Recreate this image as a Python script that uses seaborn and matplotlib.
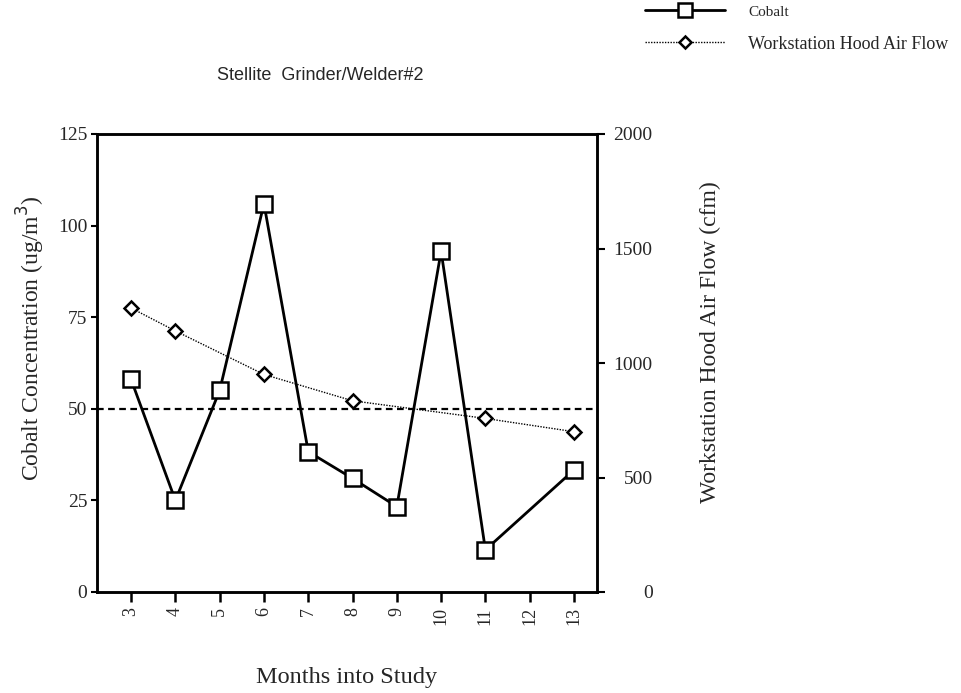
import matplotlib
matplotlib.use("Agg")
import matplotlib.pyplot as plt
import seaborn as sns
import pandas as pd
from matplotlib.lines import Line2D

sns.set_theme(style="white")
plt.rcParams['font.family'] = ['Liberation Serif', 'DejaVu Serif']

months_cobalt = [3, 4, 5, 6, 7, 8, 9, 10, 11, 13]
cobalt = [58, 25, 55, 106, 38.3, 31, 23.3, 93, 11.5, 33.3]
months_flow = [3, 4, 6, 8, 11, 13]
airflow = [1240, 1140, 950, 835, 758, 700]
xticks = [3, 4, 5, 6, 7, 8, 9, 10, 11, 12, 13]
left_ticks = [0, 25, 50, 75, 100, 125]
right_ticks = [0, 500, 1000, 1500, 2000]
limit_value = 50

df_c = pd.DataFrame({"month": months_cobalt, "cobalt": cobalt})
df_f = pd.DataFrame({"month": months_flow, "flow": airflow})

fig = plt.figure(figsize=(9.62, 6.93), dpi=100)
ax = fig.add_axes([97/962, 1-592/693, 500/962, 458/693])
ax2 = ax.twinx()

sns.lineplot(data=df_c, x="month", y="cobalt", ax=ax, color="black", linewidth=2.0,
             marker="s", markersize=12, markerfacecolor="white", markeredgecolor="black",
             markeredgewidth=1.8, zorder=3)
ax.axhline(limit_value, color="black", linestyle=(0, (3, 2)), linewidth=1.6, zorder=2)

sns.lineplot(data=df_f, x="month", y="flow", ax=ax2, color="black", linewidth=1.0,
             linestyle=(0, (1, 1)), marker="D", markersize=7.5, markerfacecolor="white",
             markeredgecolor="black", markeredgewidth=1.8, zorder=3)

ax.set_xlim(2.23, 13.52)
ax.set_ylim(0, 125)
ax2.set_ylim(0, 2000)
ax.set_xticks(xticks)
ax.set_xticklabels([str(t) for t in xticks], rotation=90, fontsize=13)
ax.set_yticks(left_ticks)
ax.set_yticklabels([str(t) for t in left_ticks], fontsize=14)
ax2.set_yticks(right_ticks)
ax2.set_yticklabels([str(t) for t in right_ticks], fontsize=14)
for lab in ax2.get_yticklabels():
    lab.set_horizontalalignment("right")

for a in (ax, ax2):
    for s in a.spines.values():
        s.set_color("black")
        s.set_linewidth(1.8)
ax.tick_params(axis="y", which="both", direction="out", length=4, width=1.5,
               color="black", left=True, pad=3)
ax.tick_params(axis="x", direction="out", length=7, width=1.8, color="black",
               bottom=True, pad=4)
ax2.tick_params(axis="y", direction="out", length=6, width=1.5, color="black",
                right=True, pad=34)

ax.set_xlabel("Months into Study", fontsize=17.5, labelpad=30)
ax.set_ylabel("Cobalt Concentration (ug/m$^3$)", fontsize=17)
ax2.set_ylabel("Workstation Hood Air Flow (cfm)", fontsize=17)
ax.yaxis.set_label_coords(-0.100, 0.555)
ax2.yaxis.set_label_coords(1.206, 0.545)
ax.grid(False)
ax2.grid(False)

fig.text(320/962, 1-76/693, "Stellite  Grinder/Welder#2", ha="center", va="center",
         fontsize=13, family=["Liberation Sans", "DejaVu Sans"])

h1 = Line2D([], [], color="black", linewidth=2.0, marker="s", markersize=10,
            markerfacecolor="white", markeredgecolor="black", markeredgewidth=1.8)
h2 = Line2D([], [], color="black", linewidth=1.0, linestyle=(0, (1, 1)), marker="D",
            markersize=6.5, markerfacecolor="white", markeredgecolor="black", markeredgewidth=1.8)
leg = fig.legend([h1, h2], ["Cobalt", "Workstation Hood Air Flow"], loc="upper left",
                 bbox_to_anchor=(629/962, 1.018), frameon=False, fontsize=13,
                 handlelength=4.4, labelspacing=0.9, handletextpad=1.3)
leg.get_texts()[0].set_fontsize(11)

ax.get_legend() and ax.get_legend().remove()
ax2.get_legend() and ax2.get_legend().remove()

fig.savefig("out.png", dpi=100)
